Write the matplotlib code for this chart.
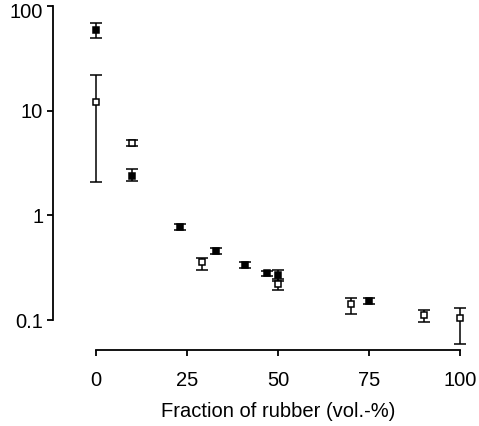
import numpy as np
import matplotlib
matplotlib.use("Agg")
import matplotlib.pyplot as plt
import matplotlib.transforms as mtransforms

plt.rcParams['font.family'] = ['Liberation Sans', 'DejaVu Sans']

# filled squares
x_filled = [0, 10, 23, 33, 41, 47, 50, 75]
y_filled = [59, 2.4, 0.77, 0.455, 0.335, 0.28, 0.27, 0.152]
lo_filled = [49.5, 2.15, 0.73, 0.43, 0.315, 0.265, 0.235, 0.143]
hi_filled = [69, 2.75, 0.82, 0.485, 0.355, 0.295, 0.30, 0.162]

# open squares
x_open = [0, 10, 29, 50, 70, 90, 100]
y_open = [12.2, 4.95, 0.356, 0.22, 0.142, 0.112, 0.104]
lo_open = [2.1, 4.6, 0.30, 0.195, 0.115, 0.095, 0.059]
hi_open = [22, 5.3, 0.39, 0.245, 0.163, 0.125, 0.13]

fig = plt.figure(figsize=(4.79, 4.26), dpi=100)
ax = fig.add_axes([96/479, 1-320/426, (460-96)/479, (320-6)/426])

def draw(x, y, lo, hi, face):
    y = np.array(y); lo = np.array(lo); hi = np.array(hi)
    err = [y - lo, hi - y]
    ax.errorbar(x, y, yerr=err, fmt='s', ms=4.8, mfc=face, mec='black',
                mew=1.1, ecolor='black', elinewidth=1.1, capsize=4,
                capthick=1.1, clip_on=False, zorder=3)

draw(x_filled, y_filled, lo_filled, hi_filled, 'black')
draw(x_open, y_open, lo_open, hi_open, 'white')

ax.set_yscale('log')
ax.set_ylim(0.1, 100)
ax.set_xlim(0, 100)
ax.set_yticks([0.1, 1, 10, 100])
ax.set_yticklabels(['0.1', '1', '10', '100'])
ax.minorticks_off()
ax.set_xticks([0, 25, 50, 75, 100])

for s in ['top', 'right']:
    ax.spines[s].set_visible(False)
ax.spines['left'].set_position(('outward', 31))
ax.spines['bottom'].set_position(('outward', 21.6))
ax.spines['left'].set_linewidth(1.3)
ax.spines['bottom'].set_linewidth(1.3)
ax.tick_params(axis='both', labelsize=14.5, width=1.3, length=4)
ax.tick_params(axis='y', pad=3)
ax.tick_params(axis='x', pad=11)

# nudge the top label down so it stays inside the figure
top_lbl = ax.get_yticklabels()[-1]
top_lbl.set_transform(top_lbl.get_transform() +
                      mtransforms.ScaledTranslation(0, -5/100, fig.dpi_scale_trans))

ax.set_xlabel('Fraction of rubber (vol.-%)', fontsize=14.5, labelpad=9)

fig.savefig('out.png', dpi=100)
